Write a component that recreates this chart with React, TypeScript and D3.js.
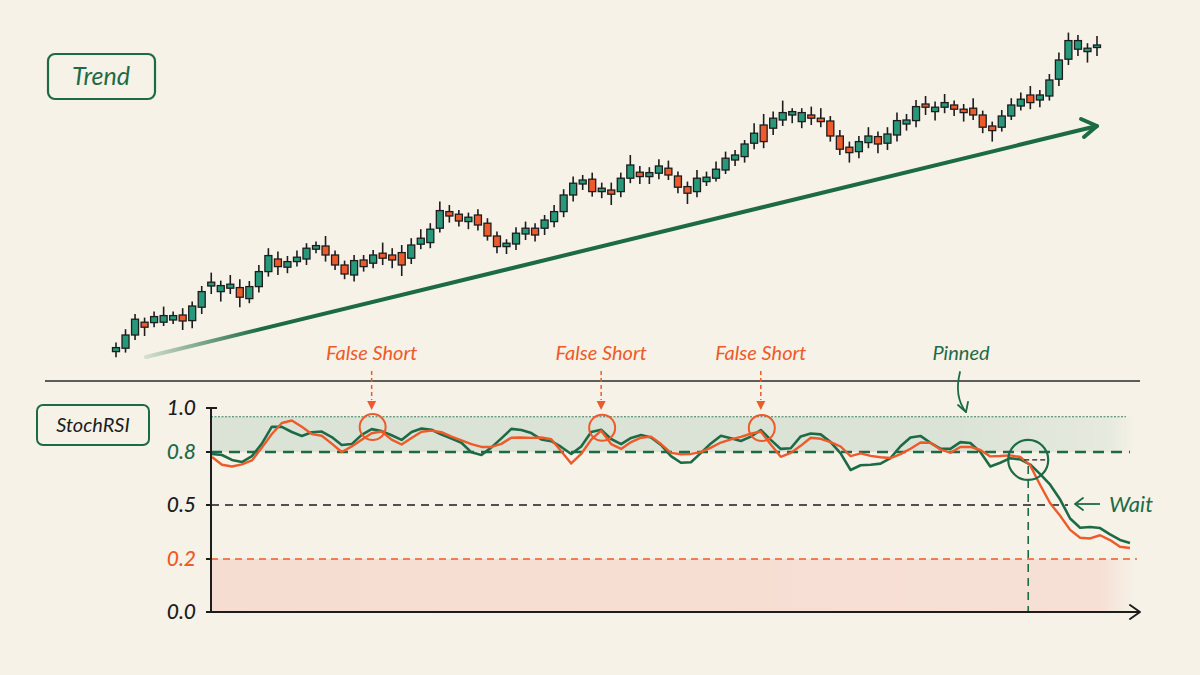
import React from "react";
import * as d3 from "d3";

// ---------- Data ----------
const candleOpen = [104.2,105.9,112.5,118.9,118.7,118.9,120,122.5,119.7,126.4,137,134.2,135.9,136.2,130.7,136.7,144.2,150.5,146.4,149.2,150.5,155.4,157,152.5,147.5,142.5,150,148.4,153.4,152.5,153.7,150.9,157.9,158.7,165.9,174.2,172.9,169.2,172.5,168.4,162,156.7,158,163,165.9,165.9,169.2,174.2,182.5,188,190.4,184.2,185,184.2,190.9,193.9,191.7,193.4,195.9,192,186.7,184.2,189.2,190.9,195,200,201.7,208.4,217.5,215.9,220,222.5,219.2,222.5,220.9,219.5,212,206.4,204.2,208.7,211.7,208.4,212.5,218,219.7,228,224.2,226.4,227.5,225.4,225.9,222.5,217,216.4,222,227,232.5,230,232,240.4,250.4,255.4,254.2,256.4];
const candleHigh = [108.7,115.4,123,121.2,124.2,126.7,124.2,125.9,129.2,137,143.7,139.7,142.5,140.4,139.5,147.5,155.9,154.2,152,154.7,158.4,159.2,162,154.7,149.7,152.5,152.5,155,158.7,155.9,157.5,160.9,165.4,168.4,179.2,177.5,175,173.7,175.4,170.9,164.2,160.4,166.4,169.2,168.4,172.5,177.5,185.4,191.7,192.5,193.7,188.7,188.7,193.7,202.5,197,196.4,200.4,199.7,194.2,189.2,195,194.2,199.2,204.2,205,210,218.4,223,224.2,229.7,225.9,225.9,226.7,225.9,222,215,209.2,212,216.4,214.2,216.4,223.7,223,230,232,229.2,233,229.7,228,230.9,224.7,219.2,225,230.9,233.7,237,235,243,253.7,263.7,262.5,258.4,262];
const candleLow = [101.4,103.7,110,112,116.4,117,118,115,115.9,123,133,129.2,133,126.4,128.4,133.7,141.7,142.5,143.4,146.7,147.5,153.4,149.2,145,140.4,139.2,144.2,145.9,147.5,145.9,142,148,155.4,155.9,163.7,168.7,166.7,165.4,164.7,159.7,153.4,153,155,160,159.2,162.5,166.4,171.4,179.2,185,181.7,180.9,177.5,181.4,188.4,188,188,190.4,190,183.4,178,181.4,187,189.2,193,197,198.7,205.4,205.9,212.5,217,218.4,215.9,217.5,216.4,209.2,202.5,198.7,200.9,205.9,203.4,205,209.2,214.7,216.4,222.5,219.7,223.4,222,219.2,220,213.4,209.2,214.2,220,224.7,225.4,226.4,229.7,237,247.5,252,248.7,252];
const candleClose = [106.2,112.5,120.4,116.4,121.7,122.2,122.2,119.5,127,134.2,138.9,137.2,137.9,131.4,136.7,144.2,152.2,146.7,149.2,151.4,155.9,157.2,152.5,147.5,143,149.7,146.7,152.5,150.9,150,147.5,157.5,160.9,165.4,174.7,172,169.5,171.4,167.5,162,156.7,158.4,163.4,165.9,162.5,170,174.2,182.5,188.4,190,184.2,185.9,182.9,190.9,197.5,191.7,193.7,197,192.5,186.4,183.4,190.9,191.4,195.4,200.9,202.5,208,213.4,209.2,220.9,223.7,224.2,223.7,220.9,219.2,212,205.4,203.7,209.2,212,208,213,219.7,220,226.7,226.4,226.4,228.7,225.4,223.7,222.5,216.4,214.7,222,227.5,230.4,228.7,232.5,240,250,259.7,259.7,255.9,257.5];

// StochRSI %K (green) and %D (orange)
const stochK = [
  0.789,0.783,0.755,0.743,0.777,0.838,0.915,0.914,0.891,0.873,
  0.890,0.893,0.868,0.832,0.836,0.878,0.904,0.895,0.876,0.855,
  0.891,0.907,0.901,0.879,0.861,0.842,0.798,0.783,0.821,0.862,
  0.905,0.900,0.886,0.857,0.849,0.823,0.789,0.825,0.891,0.901,
  0.859,0.836,0.864,0.877,0.866,0.832,0.777,0.739,0.742,0.795,
  0.839,0.874,0.863,0.850,0.870,0.900,0.855,0.814,0.817,0.871,
  0.884,0.880,0.845,0.792,0.698,0.725,0.728,0.734,0.766,0.826,
  0.866,0.873,0.842,0.815,0.814,0.845,0.841,0.800,0.718,0.739,
  0.765,0.758,0.729,0.675,0.615,0.531,0.425,0.374,0.378,0.372,
  0.337,0.306,0.289,
];
const stochD = [
  0.772,0.728,0.718,0.730,0.752,0.820,0.882,0.932,0.943,0.915,
  0.882,0.874,0.838,0.800,0.825,0.856,0.885,0.893,0.856,0.834,
  0.864,0.892,0.897,0.890,0.870,0.853,0.836,0.823,0.823,0.837,
  0.865,0.866,0.864,0.866,0.858,0.803,0.735,0.789,0.856,0.897,
  0.836,0.814,0.845,0.865,0.870,0.836,0.795,0.787,0.789,0.799,
  0.820,0.843,0.857,0.869,0.883,0.893,0.834,0.773,0.795,0.828,
  0.865,0.860,0.845,0.825,0.777,0.792,0.778,0.770,0.766,0.788,
  0.815,0.843,0.842,0.811,0.796,0.823,0.823,0.809,0.775,0.777,
  0.781,0.772,0.724,0.613,0.510,0.440,0.362,0.318,0.314,0.332,
  0.305,0.268,0.261,
];

const yTickValues = [1.0, 0.8, 0.5, 0.2, 0.0];
const yTickLabels = ["1.0", "0.8", "0.5", "0.2", "0.0"];
const overbought = 0.8;
const midline = 0.5;
const oversold = 0.2;
const pinnedTop = 0.96;
const falseShortIdx = [16, 39, 55];
const falseShortLabel = "False Short";
const signalIdx = 82;
const signalValue = 0.755;

// ---------- Styles ----------
const BG = "#f6f2e8";
const GREEN = "#1d6b46";
const CANDLE_GREEN = "#27987a";
const ORANGE = "#ee5a2a";
const INK = "#1d1d1d";
const FONT = "Lato, 'Open Sans', sans-serif";

export default function App() {
  const xC = d3.scaleLinear().domain([0, candleOpen.length - 1]).range([116, 1097]);
  const yP = d3.scaleLinear().domain([100, 260]).range([360, 40]);
  const xR = d3.scaleLinear().domain([0, stochK.length - 1]).range([212, 1130]);
  const yR = d3.scaleLinear().domain([0, 0.2, 0.5, 0.8, 1]).range([612, 559, 505, 452, 408]);

  const axisX0 = 211;
  const axisXEnd = 1140;
  const bandRight = 1136;

  const lineGen = d3
    .line<number>()
    .x((_, i) => xR(i))
    .y((d) => yR(d))
    .curve(d3.curveLinear);

  const tickColor = (v: number) => (v === overbought ? GREEN : v === oversold ? ORANGE : INK);

  const bodyW = 7;

  const trendStart: [number, number] = [146, 357];
  const trendEnd: [number, number] = [1097, 126];

  const sigX = xR(signalIdx) - 2;
  const sigY = yR(signalValue);

  return (
    <div style={{ position: "absolute", left: 0, top: 0, width: 1200, height: 675, background: BG }}>
      <svg width={1200} height={675} viewBox="0 0 1200 675" style={{ display: "block" }}>
        <defs>
          <linearGradient id="gband" gradientUnits="userSpaceOnUse" x1={axisX0} x2={bandRight} y1={0} y2={0}>
            <stop offset="0" stopColor="#dae3d6" stopOpacity={1} />
            <stop offset="0.8" stopColor="#dae3d6" stopOpacity={1} />
            <stop offset="0.97" stopColor="#dae3d6" stopOpacity={0.55} />
            <stop offset="1" stopColor="#dae3d6" stopOpacity={0} />
          </linearGradient>
          <linearGradient id="pband" gradientUnits="userSpaceOnUse" x1={axisX0} x2={bandRight} y1={0} y2={0}>
            <stop offset="0" stopColor="#f6ddd2" stopOpacity={1} />
            <stop offset="0.96" stopColor="#f6ddd2" stopOpacity={0.9} />
            <stop offset="1" stopColor="#f6ddd2" stopOpacity={0} />
          </linearGradient>
          <linearGradient id="trendGrad" gradientUnits="userSpaceOnUse" x1={trendStart[0]} x2={trendEnd[0]} y1={trendStart[1]} y2={trendEnd[1]}>
            <stop offset="0" stopColor={GREEN} stopOpacity={0.15} />
            <stop offset="0.12" stopColor={GREEN} stopOpacity={1} />
            <stop offset="1" stopColor={GREEN} stopOpacity={1} />
          </linearGradient>
        </defs>

        <rect x={0} y={0} width={1200} height={675} fill={BG} />

        {/* ---------- Top panel ---------- */}
        <rect x={48} y={54} width={107} height={45} rx={7} fill="none" stroke={GREEN} strokeWidth={2.2} />
        <text x={101} y={85} textAnchor="middle" fontFamily={FONT} fontStyle="italic" fontSize={25} fill={GREEN}>
          Trend
        </text>

        {/* trend arrow */}
        <line x1={trendStart[0]} y1={trendStart[1]} x2={trendEnd[0]} y2={trendEnd[1]} stroke="url(#trendGrad)" strokeWidth={4} strokeLinecap="round" />
        <path d={`M${trendEnd[0] - 16},${trendEnd[1] - 7} L${trendEnd[0]},${trendEnd[1]} L${trendEnd[0] - 13},${trendEnd[1] + 11}`} fill="none" stroke={GREEN} strokeWidth={4} strokeLinecap="round" strokeLinejoin="round" />

        {/* candles */}
        {candleOpen.map((o, i) => {
          const c = candleClose[i];
          const up = c >= o;
          const x = xC(i);
          const top = yP(Math.max(o, c));
          const bot = yP(Math.min(o, c));
          return (
            <g key={i}>
              <line x1={x} x2={x} y1={yP(candleHigh[i])} y2={yP(candleLow[i])} stroke={INK} strokeWidth={1.6} />
              <rect x={x - bodyW / 2} y={top} width={bodyW} height={Math.max(2.5, bot - top)} fill={up ? CANDLE_GREEN : ORANGE} stroke={INK} strokeWidth={1.3} />
            </g>
          );
        })}

        {/* separator */}
        <line x1={45} x2={1140} y1={381} y2={381} stroke="#2a2a2a" strokeWidth={1.6} />

        {/* ---------- Bottom panel ---------- */}
        <rect x={37} y={405} width={112} height={40} rx={6} fill="none" stroke={GREEN} strokeWidth={2} />
        <text x={93} y={432} textAnchor="middle" fontFamily={FONT} fontStyle="italic" fontSize={20} fill={INK}>
          StochRSI
        </text>

        {/* bands */}
        <rect x={axisX0} y={yR(pinnedTop)} width={bandRight - axisX0} height={yR(overbought) - yR(pinnedTop)} fill="url(#gband)" />
        <line x1={axisX0} x2={bandRight - 10} y1={yR(pinnedTop)} y2={yR(pinnedTop)} stroke={GREEN} strokeWidth={1.1} strokeDasharray="2,1.5" opacity={0.85} />
        <rect x={axisX0} y={yR(oversold)} width={bandRight - axisX0} height={yR(0) - yR(oversold)} fill="url(#pband)" />

        {/* reference lines */}
        <line x1={axisX0} x2={1130} y1={yR(overbought)} y2={yR(overbought)} stroke={GREEN} strokeWidth={2.4} strokeDasharray="11,7" />
        <line x1={axisX0} x2={1068} y1={yR(midline)} y2={yR(midline)} stroke={INK} strokeWidth={1.3} strokeDasharray="8,6" />
        <line x1={axisX0} x2={1137} y1={yR(oversold)} y2={yR(oversold)} stroke={ORANGE} strokeWidth={1.3} strokeDasharray="7,5" />

        {/* signal vertical */}
        <line x1={sigX} x2={sigX} y1={sigY + 6} y2={yR(0)} stroke={GREEN} strokeWidth={1.6} strokeDasharray="8,6" />

        {/* lines */}
        <path d={lineGen(stochK) || ""} fill="none" stroke={GREEN} strokeWidth={2.6} strokeLinejoin="round" />
        <path d={lineGen(stochD) || ""} fill="none" stroke={ORANGE} strokeWidth={2.4} strokeLinejoin="round" />

        {/* signal marker */}
        <line x1={sigX - 4} x2={sigX + 18} y1={sigY} y2={sigY} stroke={INK} strokeWidth={1.2} strokeDasharray="5,3" />
        <circle cx={sigX} cy={sigY} r={20} fill="none" stroke={GREEN} strokeWidth={2.2} />

        {/* axes */}
        <line x1={axisX0} x2={axisX0} y1={yR(1)} y2={yR(0)} stroke={INK} strokeWidth={2} />
        <line x1={axisX0} x2={axisXEnd} y1={yR(0)} y2={yR(0)} stroke={INK} strokeWidth={2} />
        <path d={`M${axisXEnd - 10},${yR(0) - 7} L${axisXEnd},${yR(0)} L${axisXEnd - 10},${yR(0) + 7}`} fill="none" stroke={INK} strokeWidth={2} strokeLinecap="round" strokeLinejoin="round" />
        {yTickValues.map((v, i) => (
          <g key={v}>
            <line x1={axisX0 - 5} x2={v === 1 ? axisX0 + 6 : axisX0} y1={yR(v)} y2={yR(v)} stroke={INK} strokeWidth={2} />
            <text x={196} y={yR(v)} dy="0.35em" textAnchor="end" fontFamily={FONT} fontStyle="italic" fontWeight={500} fontSize={21} fill={tickColor(v)}>
              {yTickLabels[i]}
            </text>
          </g>
        ))}

        {/* false short annotations */}
        {falseShortIdx.map((idx) => {
          const cx = xR(idx);
          const cy = yR(stochK[idx]);
          return (
            <g key={idx}>
              <text x={cx} y={360} textAnchor="middle" fontFamily={FONT} fontStyle="italic" fontSize={20} fill={ORANGE}>
                {falseShortLabel}
              </text>
              <line x1={cx} x2={cx} y1={371} y2={400} stroke={ORANGE} strokeWidth={1.5} strokeDasharray="4,3" />
              <path d={`M${cx - 4.5},${401} L${cx + 4.5},${401} L${cx},${410} Z`} fill={ORANGE} />
              <circle cx={cx + 1} cy={cy - 2} r={13} fill="none" stroke={ORANGE} strokeWidth={2} />
            </g>
          );
        })}

        {/* pinned */}
        <text x={961} y={360} textAnchor="middle" fontFamily={FONT} fontStyle="italic" fontSize={20} fill={GREEN}>
          Pinned
        </text>
        <path d="M960,372 C956,388 958,402 966,412" fill="none" stroke={GREEN} strokeWidth={1.8} strokeLinecap="round" />
        <path d="M958,405 L966,412 L968,402" fill="none" stroke={GREEN} strokeWidth={1.8} strokeLinecap="round" strokeLinejoin="round" />

        {/* wait */}
        <line x1={1076} x2={1100} y1={yR(midline) - 1} y2={yR(midline) - 1} stroke={GREEN} strokeWidth={1.8} />
        <path d={`M${1083},${yR(midline) - 7} L${1075},${yR(midline) - 1} L${1083},${yR(midline) + 5}`} fill="none" stroke={GREEN} strokeWidth={1.8} strokeLinecap="round" strokeLinejoin="round" />
        <text x={1109} y={yR(midline) + 7} fontFamily={FONT} fontStyle="italic" fontSize={22} fill={GREEN}>
          Wait
        </text>
      </svg>
    </div>
  );
}
